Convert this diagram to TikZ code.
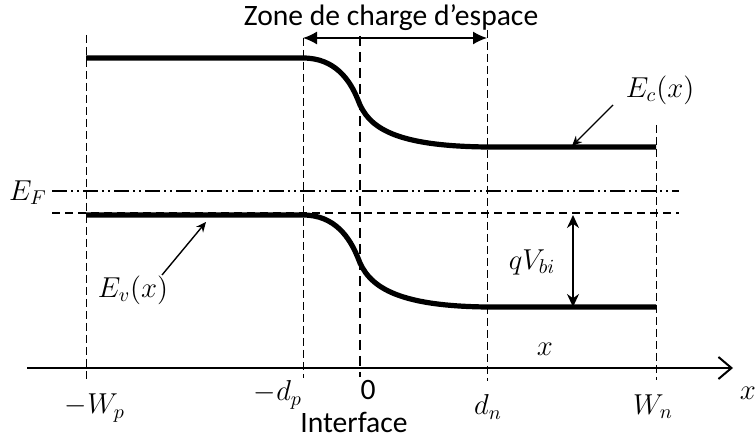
\documentclass[tikz,border=0pt]{standalone}
\usepackage{fontspec}
\setmainfont{Carlito}
\usetikzlibrary{arrows.meta}

\tikzset{
  guide/.style={draw=drawColor,line width=0.5pt,dash pattern=on 4pt off 2pt},
  origin/.style={draw=drawColor,line width=1.2pt,dash pattern=on 5pt off 3pt},
  band/.style={draw=drawColor,line width=2.6pt},
  level/.style={draw=drawColor,line width=0.7pt,dash pattern=on 4pt off 2.5pt},
  fermi/.style={draw=drawColor,line width=0.7pt,dash pattern=on 7.5pt off 2pt on 1pt off 2pt on 1pt off 2pt},
  pointer/.style={draw=drawColor,line width=0.7pt,-{Stealth[length=5pt,width=4.5pt]}},
  lbl/.style={text=drawColor,inner sep=0pt,outer sep=0pt}
}

\begin{document}
\begin{tikzpicture}[x=0.5pt,y=0.5pt,font=\fontsize{14.8}{17}\selectfont]
\definecolor{drawColor}{RGB}{0,0,0}
\path[use as bounding box,fill=white] (0,0) rectangle (755,439);

\coordinate (wpT) at ( 86,404); \coordinate (wpB) at ( 86, 57);
\coordinate (dpT) at (303,401); \coordinate (dpB) at (303, 61);
\coordinate (zT)  at (360,403); \coordinate (zB)  at (360, 62);
\coordinate (dnT) at (487,409); \coordinate (dnB) at (487, 58);
\coordinate (wnT) at (656,314); \coordinate (wnB) at (656, 59);

\path[guide] (wpT) -- (wpB);
\path[guide] (dpT) -- (dpB);
\path[guide] (dnT) -- (dnB);
\path[guide] (wnT) -- (wnB);
\path[origin] (zT) -- (zB);

\coordinate (efL) at ( 52,248); \coordinate (efR) at (679,248);
\coordinate (evL) at ( 52,226); \coordinate (evR) at (679,226);
\path[fermi] (efL) -- (efR);
\path[level] (evL) -- (evR);

\coordinate (ecA) at ( 86,381); \coordinate (ecB) at (303,381);
\coordinate (ecC) at (487,292); \coordinate (ecD) at (656,292);
\path[band] (ecA) -- (ecB) .. controls (335,381) and (350,359) .. (358,339)
  .. controls (368,311) and (395,293) .. (ecC) -- (ecD);

\coordinate (vbA) at ( 86,224); \coordinate (vbB) at (303,224);
\coordinate (vbC) at (487,132); \coordinate (vbD) at (656,132);
\path[band] (vbA) -- (vbB) .. controls (335,224) and (350,201) .. (358,181)
  .. controls (368,153) and (395,133) .. (vbC) -- (vbD);

\coordinate (axL) at ( 27,71); \coordinate (axR) at (733,71);
\path[draw=drawColor,line width=1pt,-{Straight Barb[length=6.5pt,width=11pt]}] (axL) -- (axR);

\path[draw=drawColor,line width=0.7pt,{Latex[length=7pt,width=6.5pt]}-{Latex[length=7pt,width=6.5pt]}] (dpT) -- (303,401 -| dnT);
\node[lbl] (zone) at (391,421) {Zone de charge d’espace};

\node[lbl] (ef) at ( 28,246) {$E_F$};
\node[lbl] (ec) at (660,349) {$E_c(x)$};
\node[lbl] (ev) at (133,149) {$E_v(x)$};
\coordinate (ecTip) at (572,293);
\coordinate (evTip) at (206,217);
\path[pointer] (613,334) -- (ecTip);
\path[pointer] (162,164) -- (evTip);

\coordinate (qT) at (573,224); \coordinate (qB) at (573,132);
\path[draw=drawColor,line width=0.7pt,{Stealth[length=6.5pt,width=6pt]}-{Stealth[length=6.5pt,width=6pt]}] (qT) -- (qB);
\node[lbl] (qv) at (532,177) {$qV_{bi}$};

\node[lbl] (xin)  at (545, 90) {$x$};
\node[lbl] (xax)  at (748, 46) {$x$};
\node[lbl] (wp)   at ( 95, 31) {$-W_p$};
\node[lbl] (dp)   at (278, 44) {$-d_p$};
\node[lbl] (zero) at (368, 49) {0};
\node[lbl] (intf) at (354, 17) {Interface};
\node[lbl] (dn)   at (488, 32) {$d_n$};
\node[lbl] (wn)   at (653, 32) {$W_n$};
\end{tikzpicture}
\end{document}
